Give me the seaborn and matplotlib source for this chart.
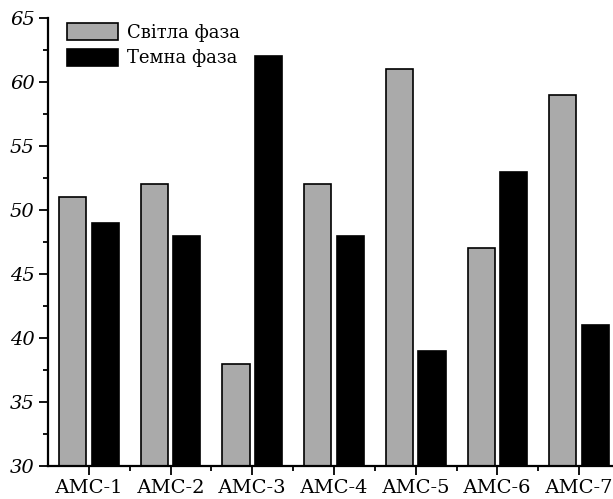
import matplotlib
matplotlib.use('Agg')
import matplotlib.pyplot as plt
import seaborn as sns
import pandas as pd
from matplotlib.ticker import MultipleLocator

stations = ['АМС-1', 'АМС-2', 'АМС-3', 'АМС-4', 'АМС-5', 'АМС-6', 'АМС-7']
light = [51, 52, 38, 52, 61, 47, 59]
dark = [49, 48, 62, 48, 39, 53, 41]
phases = ['Світла фаза', 'Темна фаза']

df = pd.DataFrame({
    'station': stations * 2,
    'value': light + dark,
    'phase': [phases[0]] * len(stations) + [phases[1]] * len(stations),
})

sns.set_style('ticks', {'axes.edgecolor': 'black', 'xtick.color': 'black',
                        'ytick.color': 'black', 'text.color': 'black'})
plt.rcParams['font.family'] = ['DejaVu Serif']

fig = plt.figure(figsize=(6.13, 4.99), dpi=100)
ax = fig.add_axes([48 / 613, 33 / 499, 572 / 613, 448 / 499])

sns.barplot(data=df, x='station', y='value', hue='phase', ax=ax,
            palette=['#aaaaaa', '#000000'], edgecolor='black', linewidth=1.2,
            width=0.8, gap=0.17, errorbar=None)

ax.set_ylim(30, 65)
ax.set_xlim(-0.5, 6.5)
ax.yaxis.set_major_locator(MultipleLocator(5))
ax.yaxis.set_minor_locator(MultipleLocator(2.5))
ax.set_xticks(range(len(stations)))
ax.set_xticks([i + 0.5 for i in range(len(stations) - 1)], minor=True)
ax.set_xticklabels(stations, fontsize=14, color='black')
for lab in ax.get_yticklabels():
    lab.set_fontstyle('italic')
    lab.set_fontsize(14)
    lab.set_color('black')
ax.tick_params(axis='both', which='major', length=6.5, width=1.3, direction='out',
               pad=3, colors='black')
ax.tick_params(axis='both', which='minor', length=3.5, width=1.3, direction='out',
               colors='black')
ax.set_xlabel('')
ax.set_ylabel('')
sns.despine(ax=ax)
for s in ['left', 'bottom']:
    ax.spines[s].set_linewidth(1.6)
    ax.spines[s].set_color('black')

leg = ax.legend(loc='upper left', bbox_to_anchor=(0.005, 1.025), frameon=False,
                fontsize=13, handlelength=2.8, handleheight=1.05, handletextpad=0.5,
                labelspacing=0.4)
for t in leg.get_texts():
    t.set_color('black')

fig.savefig('out.png', dpi=100)
